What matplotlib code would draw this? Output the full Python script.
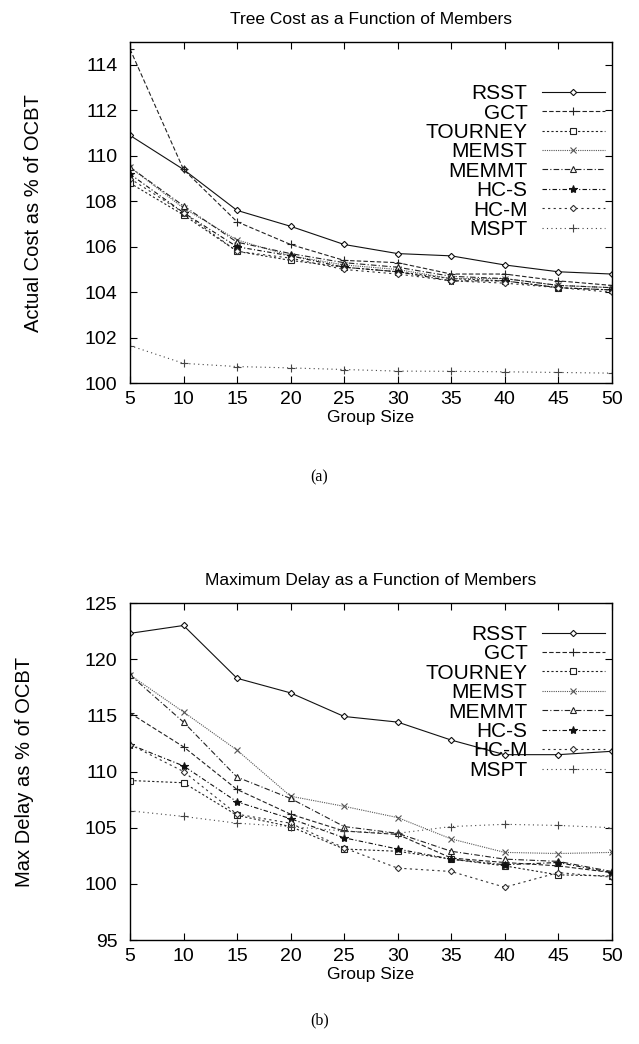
import matplotlib
matplotlib.use("Agg")
import matplotlib.pyplot as plt
import numpy as np

plt.rcParams['font.family'] = ['Liberation Sans', 'DejaVu Sans']

group_size = [5, 10, 15, 20, 25, 30, 35, 40, 45, 50]
x_ticks = [5, 10, 15, 20, 25, 30, 35, 40, 45, 50]

algorithms = ["RSST", "GCT", "TOURNEY", "MEMST", "MEMMT", "HC-S", "HC-M", "MSPT"]

# Tree cost relative to OCBT (%)
cost_rsst    = [110.9, 109.4, 107.6, 106.9, 106.1, 105.7, 105.6, 105.2, 104.9, 104.8]
cost_gct     = [114.7, 109.4, 107.1, 106.1, 105.4, 105.3, 104.8, 104.8, 104.5, 104.3]
cost_tourney = [108.8, 107.4, 105.8, 105.4, 105.1, 104.9, 104.6, 104.5, 104.2, 104.1]
cost_memst   = [109.5, 107.7, 106.3, 105.6, 105.2, 105.0, 104.6, 104.6, 104.3, 104.2]
cost_memmt   = [109.5, 107.8, 106.2, 105.7, 105.3, 105.1, 104.7, 104.6, 104.3, 104.2]
cost_hcs     = [109.2, 107.5, 106.0, 105.6, 105.1, 104.9, 104.5, 104.5, 104.2, 104.1]
cost_hcm     = [109.0, 107.5, 105.8, 105.5, 105.0, 104.8, 104.5, 104.4, 104.2, 104.0]
cost_mspt    = [101.65, 100.87, 100.73, 100.67, 100.6, 100.53, 100.52, 100.5, 100.47, 100.44]

# Maximum delay relative to OCBT (%)
delay_rsst    = [122.3, 123.0, 118.3, 117.0, 114.9, 114.4, 112.8, 111.5, 111.5, 111.8]
delay_gct     = [115.2, 112.2, 108.4, 106.2, 104.7, 104.4, 102.3, 101.9, 101.6, 101.0]
delay_tourney = [109.2, 109.0, 106.1, 105.1, 103.1, 102.9, 102.2, 101.6, 100.8, 100.7]
delay_memst   = [118.6, 115.3, 111.9, 107.8, 106.9, 105.9, 104.0, 102.8, 102.7, 102.8]
delay_memmt   = [118.6, 114.4, 109.5, 107.6, 105.1, 104.5, 102.9, 102.2, 102.0, 101.1]
delay_hcs     = [112.4, 110.5, 107.3, 105.8, 104.1, 103.1, 102.2, 101.7, 101.9, 101.0]
delay_hcm     = [112.4, 110.0, 106.2, 105.4, 103.2, 101.4, 101.1, 99.7, 101.0, 100.6]
delay_mspt    = [106.5, 106.0, 105.4, 105.1, 104.7, 104.5, 105.1, 105.3, 105.2, 105.0]

cost_series = [cost_rsst, cost_gct, cost_tourney, cost_memst,
               cost_memmt, cost_hcs, cost_hcm, cost_mspt]
delay_series = [delay_rsst, delay_gct, delay_tourney, delay_memst,
                delay_memmt, delay_hcs, delay_hcm, delay_mspt]

# gnuplot-like monochrome styles: (color, dashes, marker, marker size, filled)
styles = [
    ("#111111", None,              "D", 3.2, False),
    ("#222222", (4, 2),            "+", 6.0, False),
    ("#222222", (2, 2),            "s", 4.0, False),
    ("#555555", (1, 1),            "x", 5.0, False),
    ("#222222", (5, 2, 1, 2),      "^", 4.0, False),
    ("#111111", (4, 2, 1, 2),      "*", 6.0, True),
    ("#333333", (2, 3),            "D", 3.2, False),
    ("#444444", (1, 3),            "+", 6.0, False),
]

TICK_FS = 14
LEGEND_FS = 15
TITLE_FS = 12.5
XLABEL_FS = 12.5
YLABEL_FS = 14.5


def draw_panel(ax, series, ylim, yticks, title, ylabel, legend_top, ylabel_x):
    for name, vals, (col, dash, mk, ms, filled) in zip(algorithms, series, styles):
        line, = ax.plot(group_size, vals, color=col, lw=0.8, marker=mk, ms=ms,
                        mew=0.8, mfc=col if filled else "white", mec=col,
                        label=name)
        if dash is not None:
            line.set_dashes(dash)
    ax.set_xlim(5, 50)
    ax.set_ylim(*ylim)
    ax.set_xticks(x_ticks)
    ax.set_yticks(yticks)
    ax.tick_params(direction="in", length=5, width=0.8, top=True, right=True,
                   labelsize=TICK_FS)
    ax.tick_params(axis="x", pad=6)
    ax.tick_params(axis="y", pad=9)
    for s in ax.spines.values():
        s.set_linewidth(1.0)
    ax.set_title(title, fontsize=TITLE_FS, pad=13)
    ax.set_xlabel("Group Size", fontsize=XLABEL_FS, labelpad=1)
    ax.set_ylabel(ylabel, fontsize=YLABEL_FS)
    ax.yaxis.set_label_coords(ylabel_x, 0.5)
    ax.legend(loc="upper right", bbox_to_anchor=(0.985, legend_top),
              frameon=False, markerfirst=False, fontsize=LEGEND_FS,
              handlelength=3.0, handletextpad=0.7, labelspacing=0.02,
              borderaxespad=0.0, borderpad=0.0)


fig = plt.figure(figsize=(6.39, 10.44), dpi=100)
ax1 = fig.add_axes([0.2034, 0.633, 0.754, 0.3266])
ax2 = fig.add_axes([0.2034, 0.0996, 0.754, 0.3228])

draw_panel(ax1, cost_series, (100, 115), np.arange(100, 115, 2),
           "Tree Cost as a Function of Members", "Actual Cost as % of OCBT",
           legend_top=0.877, ylabel_x=-0.18)
draw_panel(ax2, delay_series, (95, 125), np.arange(95, 126, 5),
           "Maximum Delay as a Function of Members", "Max Delay as % of OCBT",
           legend_top=0.935, ylabel_x=-0.20)

fig.text(0.5, 1 - 477 / 1044, "(a)", ha="center", va="center",
         family="Liberation Serif", fontsize=11.5)
fig.text(0.5, 1 - 1020 / 1044, "(b)", ha="center", va="center",
         family="Liberation Serif", fontsize=11.5)

fig.savefig("out.png", dpi=100)
